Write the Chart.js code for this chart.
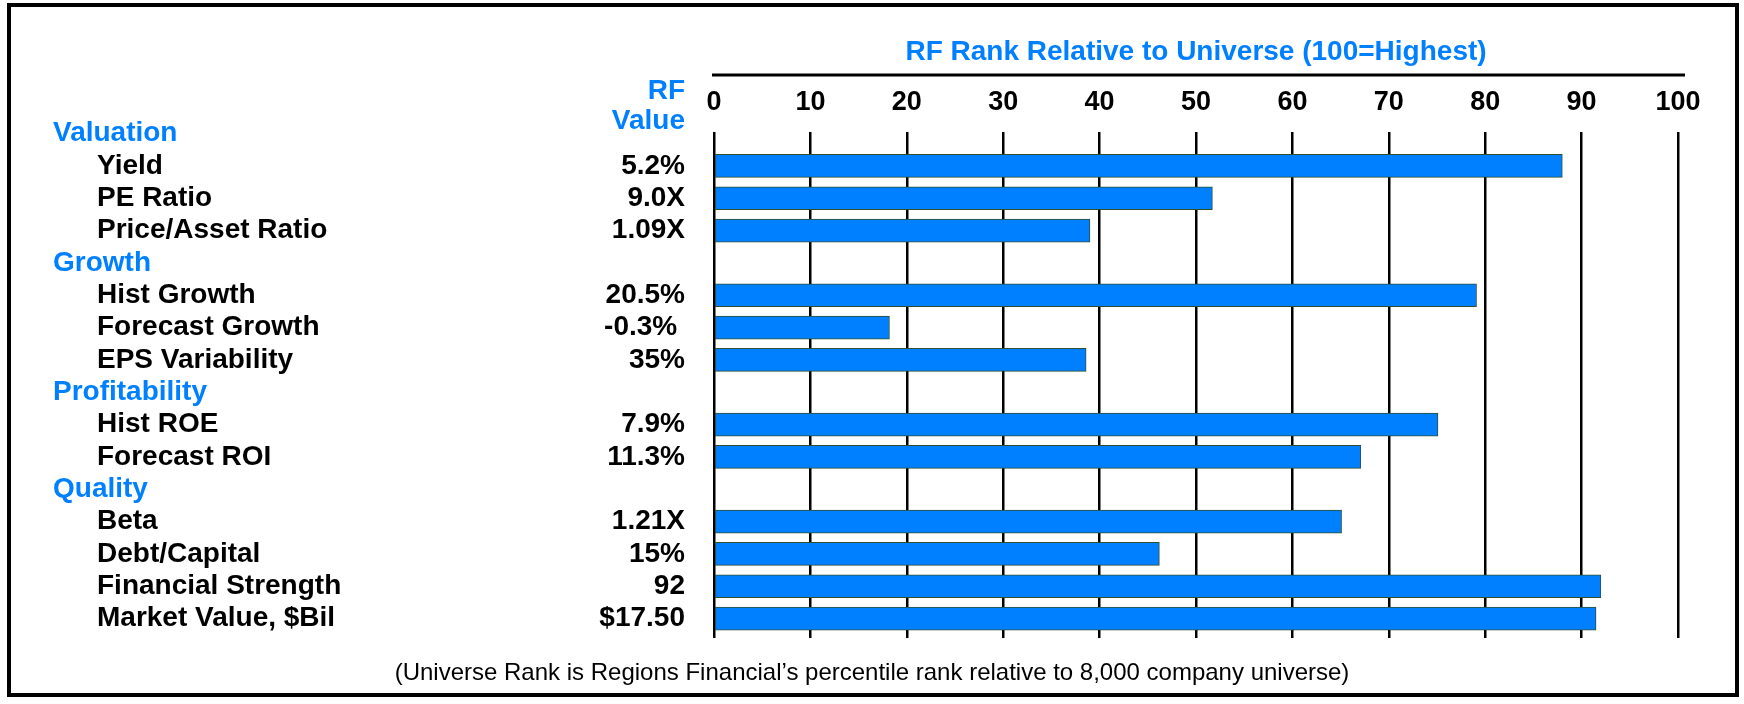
<!DOCTYPE html>
<html>
<head>
<meta charset="utf-8">
<script src="https://cdn.jsdelivr.net/npm/chart.js@4.4.1/dist/chart.umd.min.js"></script>
<style>
    html, body { margin: 0; padding: 0; background: #fff; }
    #wrap { width: 1744px; height: 704px; }
</style>
</head>
<body>
<div id="wrap"><canvas id="myChart" width="1744" height="704"></canvas></div>
<script>
// Table rows, group headers included (headers have no bar)
var row_labels = ['Valuation', 'Yield', 'PE Ratio', 'Price/Asset Ratio',
                  'Growth', 'Hist Growth', 'Forecast Growth', 'EPS Variability',
                  'Profitability', 'Hist ROE', 'Forecast ROI',
                  'Quality', 'Beta', 'Debt/Capital', 'Financial Strength', 'Market Value, $Bil'];
var header_rows = [0, 4, 8, 11];
var rf_values = ['', '5.2%', '9.0X', '1.09X',
                 '', '20.5%', '-0.3% ', '35%',
                 '', '7.9%', '11.3%',
                 '', '1.21X', '15%', '92', '$17.50'];
// percentile rank in the universe, null on header rows
var rf_rank = [null, 88, 51.7, 39,
               null, 79.1, 18.2, 38.6,
               null, 75.1, 67.1,
               null, 65.1, 46.2, 92, 91.5];
var rank_ticks = [0, 10, 20, 30, 40, 50, 60, 70, 80, 90, 100];

var axis_title = 'RF Rank Relative to Universe (100=Highest)';
var footnote = '(Universe Rank is Regions Financial\u2019s percentile rank relative to 8,000 company universe)';

var blue = '#0080ff';
var family = '"Liberation Sans", Arial, Helvetica, sans-serif';
var bold = 'bold 28px ' + family;

// build bar points: x = rank, y = row index
var points = [];
for (var i = 0; i < rf_rank.length; i++) {
    if (rf_rank[i] !== null) {
        points.push({x: rf_rank[i], y: i});
    }
}

// Texts of the left table, the top rule, the footnote and the frame
var tablePlugin = {
    id: 'tableText',
    afterDraw: function(chart) {
        var ctx = chart.ctx;
        var y = chart.scales.y;
        var x = chart.scales.x;
        ctx.save();
        ctx.textBaseline = 'middle';
        ctx.font = bold;
        for (var i = 0; i < row_labels.length; i++) {
            var py = y.getPixelForValue(i);
            if (header_rows.indexOf(i) >= 0) {
                ctx.fillStyle = blue;
                ctx.textAlign = 'left';
                ctx.fillText(row_labels[i], 53, py);
            } else {
                ctx.fillStyle = '#000';
                ctx.textAlign = 'left';
                ctx.fillText(row_labels[i], 97, py);
                ctx.textAlign = 'right';
                ctx.fillText(rf_values[i], 685, py);
            }
        }
        // column header
        ctx.fillStyle = blue;
        ctx.textAlign = 'right';
        ctx.fillText('RF', 685, 91);
        ctx.fillText('Value', 685, 121);

        // rule above the tick labels
        ctx.strokeStyle = '#000';
        ctx.lineWidth = 3;
        ctx.beginPath();
        ctx.moveTo(x.getPixelForValue(0) - 2, 75);
        ctx.lineTo(x.getPixelForValue(100) + 7, 75);
        ctx.stroke();

        // footnote
        ctx.fillStyle = '#000';
        ctx.textAlign = 'center';
        ctx.font = '24px ' + family;
        ctx.fillText(footnote, 872, 673);

        // outer frame
        ctx.lineWidth = 4;
        ctx.strokeRect(9, 5, 1728, 690);
        ctx.restore();
    }
};

var ctx = document.getElementById('myChart');
var myChart = new Chart(ctx, {
    type: 'bar',
    data: {
        datasets: [{
            label: 'RF Rank',
            data: points,
            backgroundColor: blue,
            borderColor: '#2f4f2f',
            borderWidth: 1,
            borderSkipped: false,
            barThickness: 23
        }]
    },
    options: {
        indexAxis: 'y',
        responsive: false,
        animation: false,
        devicePixelRatio: 1,
        layout: {
            padding: {left: 714, right: 66, top: 0, bottom: 66}
        },
        plugins: {
            legend: {display: false},
            tooltip: {enabled: false}
        },
        scales: {
            x: {
                type: 'linear',
                position: 'top',
                min: 0,
                max: 100,
                afterBuildTicks: function(scale) {
                    scale.ticks = rank_ticks.map(function(v) { return {value: v}; });
                },
                afterFit: function(scale) {
                    scale.height = 132;
                },
                grid: {
                    color: '#000',
                    lineWidth: 2.5,
                    drawTicks: false
                },
                border: {display: false},
                ticks: {
                    color: '#000',
                    padding: 13,
                    maxRotation: 0,
                    font: {family: family, size: 27, weight: 'bold'}
                },
                title: {
                    display: true,
                    text: axis_title,
                    color: blue,
                    padding: {top: 35, bottom: 0},
                    font: {family: family, size: 28, weight: 'bold'}
                }
            },
            y: {
                type: 'linear',
                display: false,
                reverse: true,
                offset: false,
                grid: {offset: false},
                min: -0.05,
                max: 15.6,
                ticks: {stepSize: 1}
            }
        }
    },
    plugins: [tablePlugin]
});
</script>
</body>
</html>
